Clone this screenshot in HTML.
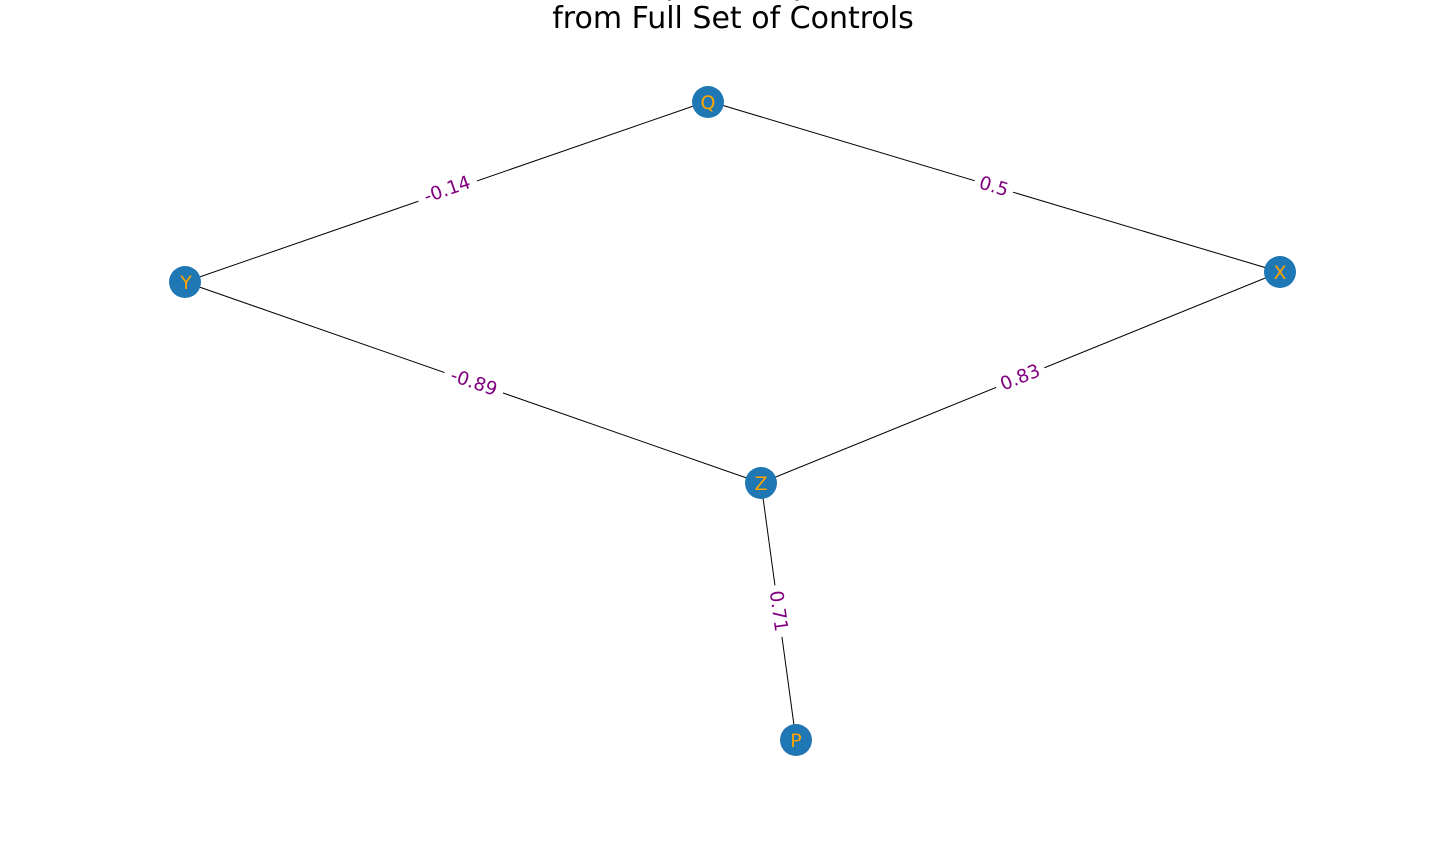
<!DOCTYPE html>
<html><head><meta charset="utf-8"><style>
html,body{margin:0;padding:0;background:#fff;}
svg{display:block;}
text{font-family:"DejaVu Sans","Liberation Sans",sans-serif;}
</style></head><body>
<svg width="1440" height="864" viewBox="0 0 1440 864" xmlns="http://www.w3.org/2000/svg">
<text x="733" y="-6" font-size="30" text-anchor="middle" fill="#000">Causal Graph of Dependencies</text>
<text x="733" y="28" font-size="30" text-anchor="middle" fill="#000">from Full Set of Controls</text>
<g stroke="#000" stroke-width="1">
<line x1="185" y1="282" x2="708" y2="101"/>
<line x1="708" y1="101" x2="1280" y2="272"/>
<line x1="185" y1="282" x2="761" y2="483"/>
<line x1="761" y1="483" x2="1280" y2="272"/>
<line x1="761" y1="483" x2="796" y2="740"/>
</g>
<g font-size="18.5" fill="#800080" text-anchor="middle">
<g transform="translate(447,189) rotate(-19.1)"><rect x="-31" y="-11" width="62" height="22" fill="#fff"/><text y="6.5">-0.14</text></g>
<g transform="translate(994,186) rotate(16.6)"><rect x="-20" y="-11" width="40" height="22" fill="#fff"/><text y="6.5">0.5</text></g>
<g transform="translate(474,382) rotate(19.2)"><rect x="-31" y="-11" width="62" height="22" fill="#fff"/><text y="6.5">-0.89</text></g>
<g transform="translate(1020,377) rotate(-22.1)"><rect x="-26" y="-11" width="52" height="22" fill="#fff"/><text y="6.5">0.83</text></g>
<g transform="translate(779,611) rotate(82.2)"><rect x="-26" y="-11" width="52" height="22" fill="#fff"/><text y="6.5">0.71</text></g>
</g>
<g fill="#1f77b4">
<circle cx="708" cy="102" r="16"/>
<circle cx="185" cy="282" r="16"/>
<circle cx="1280" cy="272" r="16"/>
<circle cx="761" cy="483" r="16"/>
<circle cx="796" cy="740" r="16"/>
</g>
<g font-size="19" fill="#ffa500" text-anchor="middle">
<text x="708" y="109">Q</text>
<text x="186" y="289">Y</text>
<text x="1280" y="279">X</text>
<text x="761" y="490">Z</text>
<text x="796" y="747">P</text>
</g>
</svg>
</body></html>
